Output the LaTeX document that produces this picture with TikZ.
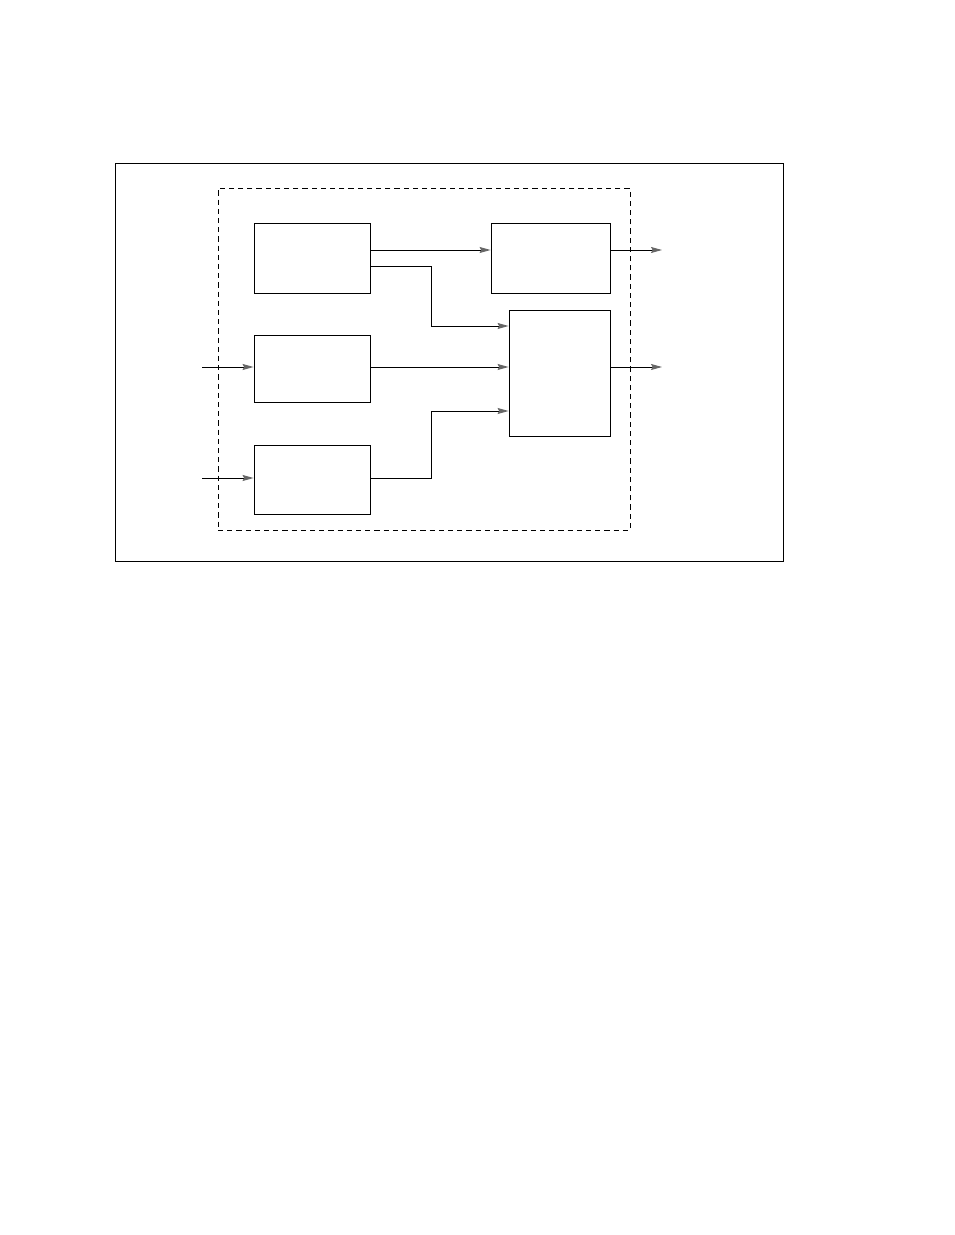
\documentclass[tikz,border=0pt]{standalone}
\usetikzlibrary{arrows.meta,fit}
\begin{document}
\begin{tikzpicture}[x=0.5pt,y=-0.5pt,
  blk/.style={draw,line width=0.45pt,inner sep=0pt},
  dashframe/.style={draw,line width=0.45pt,inner sep=0pt,dash pattern=on 2.6pt off 2pt},
  conn/.style={line width=0.45pt,-{Stealth[length=5.5pt,width=3pt,inset=0.8pt,color=black!60]}}]
\useasboundingbox (0,0) rectangle (954,1235);
\node[blk,fit={(115,163) (783,561)}] (outer) {};
\node[dashframe,fit={(218,188) (630,530)}] (dash) {};
\node[blk,fit={(254,223) (370,293)}] (A) {};
\node[blk,fit={(254,335) (370,402)}] (B) {};
\node[blk,fit={(254,445) (370,514)}] (C) {};
\node[blk,fit={(491,223) (610,293)}] (D) {};
\node[blk,fit={(509,310) (610,436)}] (E) {};
\coordinate (inB) at (202,367);
\coordinate (inC) at (202,478);
\coordinate (outD) at (662,250);
\coordinate (outE) at (662,367);
\draw[conn] (inB) -- (inB -| B.west);
\draw[conn] (inC) -- (inC -| C.west);
\draw[conn] (A.east |- outD) -- (D.west |- outD);
\draw[conn] (A.east |- 0,266) -- (431,266) -- (431,326) -- (E.west |- 0,326);
\draw[conn] (B.east |- outE) -- (E.west |- outE);
\draw[conn] (C.east |- inC) -- (431,478) -- (431,411) -- (E.west |- 0,411);
\draw[conn] (D.east |- outD) -- (outD);
\draw[conn] (E.east |- outE) -- (outE);
\end{tikzpicture}
\end{document}
